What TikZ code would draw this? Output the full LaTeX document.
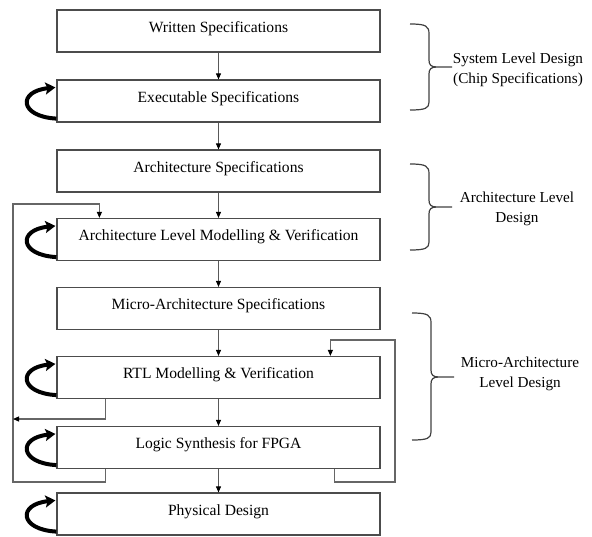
\documentclass[tikz,border=0pt]{standalone}
\usepackage{fontspec}
\setmainfont{Liberation Serif}
\usetikzlibrary{arrows.meta}
\begin{document}
\begin{tikzpicture}[x=1pt,y=-1pt,
  stage/.style={draw=black!70, line width=1.2pt, minimum width=323pt, minimum height=42pt, inner sep=0pt, text height=11pt, text depth=9pt, font=\fontsize{15.6}{18}\selectfont},
  flow/.style={draw=black!65, line width=1pt, -{Triangle[length=6pt,width=5pt,color=black]}},
  fb/.style={draw=black!60, line width=1.2pt},
  fbtip/.style={-{Triangle[length=6pt,width=5pt,color=black]}},
  loopar/.style={line width=4pt, -{Stealth[length=10pt,width=12pt,inset=2pt]}},
  brc/.style={draw=black!75, line width=1.2pt},
  lvl/.style={align=center, font=\fontsize{15.2}{19.5}\selectfont}]
\useasboundingbox (0,0) rectangle (592,536);

\node[stage] (b1) at (218.5,31) {Written Specifications};
\node[stage] (b2) at (218.5,101) {Executable Specifications};
\node[stage] (b3) at (218.5,171) {Architecture Specifications};
\node[stage] (b4) at (218.5,239.5) {Architecture Level Modelling \& Verification};
\node[stage] (b5) at (218.5,308.5) {Micro-Architecture Specifications};
\node[stage] (b6) at (218.5,377.5) {RTL Modelling \& Verification};
\node[stage] (b7) at (218.5,447.5) {Logic Synthesis for FPGA};
\node[stage] (b8) at (218.5,514) {Physical Design};

\foreach \a/\b in {b1/b2,b2/b3,b3/b4,b4/b5,b5/b6,b6/b7,b7/b8}
  \draw[flow] (\a.south) -- (\b.north);

\coordinate (lb) at (13,482);
\coordinate (lt) at (13,204);
\coordinate (lm) at (13,419);
\coordinate (rb) at (395,482);
\coordinate (rt) at (395,340);

\draw[fb,fbtip] ([xshift=49pt]b7.south west) |- (lb) -- (lt) -| ([xshift=43pt]b4.north west);
\draw[fb,fbtip] ([xshift=49pt]b6.south west) |- (lm);
\draw[fb,fbtip] ([xshift=278pt]b7.south west) |- (rb) -- (rt) -| ([xshift=274pt]b6.north west);

\foreach \b in {b2,b4,b6,b7,b8}
  \draw[loopar] ([yshift=4pt]\b.south west) .. controls +(-37,-2) and +(-38,4) .. ([xshift=-1pt,yshift=-8pt]\b.north west);

\draw[brc] (410,24) .. controls (426,24) and (429,26) .. (429,34) -- (429,60) .. controls (429,65) and (431,67) .. (437,67) -- (452,67)
  (437,67) .. controls (431,67) and (429,69) .. (429,74) -- (429,102) .. controls (429,108) and (426,110) .. (410,110);
\draw[brc] (410,164) .. controls (426,164) and (429,166) .. (429,174) -- (429,200) .. controls (429,205) and (431,207) .. (437,207) -- (452,207)
  (437,207) .. controls (431,207) and (429,209) .. (429,214) -- (429,242) .. controls (429,248) and (426,250) .. (410,250);
\draw[brc] (412,313) .. controls (428,313) and (431,315) .. (431,323) -- (431,370) .. controls (431,375) and (433,377) .. (439,377) -- (454,377)
  (439,377) .. controls (433,377) and (431,379) .. (431,384) -- (431,432) .. controls (431,438) and (428,440) .. (412,440);

\node[lvl] (t1) at (518,70) {System Level Design\\(Chip Specifications)};
\node[lvl] (t2) at (517,209) {Architecture Level\\Design};
\node[lvl] (t3) at (520,374) {Micro-Architecture\\Level Design};
\end{tikzpicture}
\end{document}
